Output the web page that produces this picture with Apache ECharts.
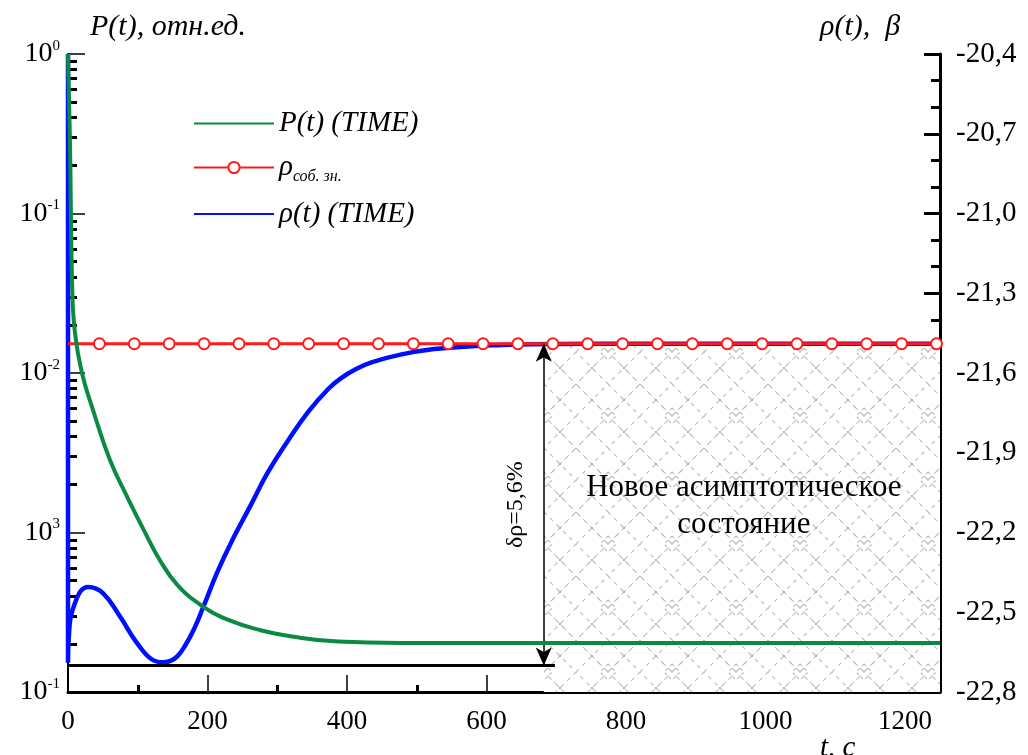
<!DOCTYPE html>
<html>
<head>
<meta charset="utf-8">
<script src="https://cdn.jsdelivr.net/npm/echarts@6/dist/echarts.min.js"></script>
<style>
html,body{margin:0;padding:0;background:#fff;}
#chart{width:1028px;height:755px;}
</style>
</head>
<body>
<div id="chart"></div>
<script>
// ---- data ----
const powerT   = [0, 3, 6, 10, 20, 36, 60, 85, 108, 132, 157, 190, 229, 276, 324, 387, 478, 600, 800, 1000, 1250];
const powerVal = [1, 0.25, 0.0346, 0.0178, 0.0100, 0.00583, 0.00286, 0.001667, 0.00105, 0.000667, 0.000468, 0.000352, 0.000284, 0.000244, 0.000222, 0.000207, 0.000203, 0.000203, 0.000203, 0.000203, 0.000203];

const rhoT   = [0, 0, 1, 10, 29, 50, 75, 99, 122, 137, 147, 157, 168, 180, 194, 214, 237, 262, 286, 315, 344, 373, 391, 413, 435, 478, 525, 574, 622, 669, 708, 800, 1000, 1250];
const rhoVal = [-20.4, -22.69, -22.60, -22.465, -22.405, -22.428, -22.518, -22.616, -22.68, -22.688, -22.683, -22.665, -22.625, -22.567, -22.48, -22.349, -22.221, -22.097, -21.976, -21.856, -21.747, -21.66, -21.62, -21.585, -21.56, -21.53, -21.51, -21.5, -21.495, -21.492, -21.491, -21.49, -21.49, -21.49];

const eigenT = [0, 45, 95, 145, 195, 245, 295, 345, 395, 445, 495, 545, 595, 645, 695, 745, 795, 845, 895, 945, 995, 1045, 1095, 1145, 1195, 1245, 1250];
const eigenVal = -21.49;

const leftTickValues = [1, 0.1, 0.01, 0.001, 0.0001];
const leftTickExp    = ['0', '-1', '-2', '3', '-1'];
const leftMinorTicks = [];
[1e-4, 1e-3, 1e-2, 1e-1].forEach(function (d) { for (let k = 2; k <= 9; k++) leftMinorTicks.push(d * k); });

const deltaRhoT = 682;
const baseRho = -22.70;
const baseEndT = 698;
const areaStartT = 682;
const labelsText = {
  P: 'P(t) (TIME)',
  eig: 'ρсоб. зн.',
  rho: 'ρ(t) (TIME)',
  delta: 'δρ=5,6%',
  area: 'Новое асимптотическое\nсостояние',
  leftName: 'P(t), отн.ед.',
  rightName: 'ρ(t),  β',
  xName: 't, c'
};

// ---- hatch pattern ----
function makeHatch() {
  const s = 64, h = s / 2;
  const c = document.createElement('canvas');
  c.width = s; c.height = s;
  const ctx = c.getContext('2d');
  ctx.fillStyle = '#ffffff';
  ctx.fillRect(0, 0, s, s);
  ctx.strokeStyle = '#bdbdbd';
  ctx.lineWidth = 1.2;
  ctx.setLineDash([6, 4]);
  ctx.beginPath();
  ctx.moveTo(0, 0); ctx.lineTo(s, s);
  ctx.moveTo(s, 0); ctx.lineTo(0, s);
  ctx.stroke();
  ctx.setLineDash([4, 5]);
  ctx.beginPath();
  ctx.moveTo(0, h); ctx.lineTo(h, 0); ctx.lineTo(s, h); ctx.lineTo(h, s); ctx.closePath();
  ctx.stroke();
  ctx.setLineDash([3, 3]);
  ctx.beginPath();
  ctx.moveTo(h, h - 8); ctx.lineTo(h + 8, h); ctx.lineTo(h, h + 8); ctx.lineTo(h - 8, h); ctx.closePath();
  ctx.stroke();
  ctx.fillStyle = '#b5b5b5';
  ctx.fillRect(15, 15, 2, 2);
  ctx.fillRect(47, 47, 2, 2);
  ctx.fillRect(47, 15, 2, 2);
  ctx.fillRect(15, 47, 2, 2);
  return c;
}

const serif = 'Liberation Serif';
const chart = echarts.init(document.getElementById('chart'));

const option = {
  backgroundColor: '#ffffff',
  animation: false,
  grid: { left: 68, right: 88, top: 54, bottom: 63, containLabel: false },
  legend: {
    left: 188, top: 104, orient: 'vertical',
    itemWidth: 80, itemHeight: 14, itemGap: 15,
    data: [
      { name: labelsText.P, itemStyle: { opacity: 0 } },
      { name: labelsText.eig },
      { name: labelsText.rho, itemStyle: { opacity: 0 } }
    ],
    textStyle: {
      fontFamily: serif, fontStyle: 'italic', fontSize: 29, color: '#000',
      rich: {
        i: { fontFamily: serif, fontStyle: 'italic', fontSize: 29, color: '#000' },
        sub: { fontFamily: serif, fontStyle: 'italic', fontSize: 16, color: '#000', padding: [18, 0, 0, 0] }
      }
    },
    formatter: function (name) {
      if (name === labelsText.eig) return '{i|ρ}{sub|соб. зн.}';
      return name;
    }
  },
  xAxis: {
    type: 'value', min: 0, max: 1250, interval: 200,
    axisLine: { show: true, lineStyle: { color: '#000', width: 3 } },
    axisTick: { show: true, inside: true, length: 17, lineStyle: { color: '#000', width: 1.5 } },
    minorTick: { show: true, splitNumber: 2, length: 7, lineStyle: { color: '#000', width: 3 } },
    splitLine: { show: false },
    axisLabel: {
      fontFamily: serif, fontSize: 27, color: '#000', margin: 16, showMaxLabel: false,
      formatter: function (v) { return (v % 200 === 0) ? String(v) : ''; }
    }
  },
  yAxis: [
    {
      type: 'log', logBase: 10, min: 1e-4, max: 1, position: 'left',
      axisLine: { show: true, lineStyle: { color: '#000', width: 2 } },
      axisTick: { show: true, inside: true, length: 17, lineStyle: { color: '#000', width: 1.5 } },
      splitLine: { show: false },
      axisLabel: {
        margin: 8, color: '#000',
        formatter: function (v) {
          let idx = -1;
          leftTickValues.forEach(function (t, i) { if (Math.abs(Math.log10(v) - Math.log10(t)) < 1e-6) idx = i; });
          if (idx < 0) return '';
          return '{b|10}{s|' + leftTickExp[idx] + '}';
        },
        rich: {
          b: { fontFamily: serif, fontSize: 28, color: '#000' },
          s: { fontFamily: serif, fontSize: 15, color: '#000', padding: [0, 0, 16, 0] }
        }
      }
    },
    {
      type: 'value', min: -22.8, max: -20.4, interval: 0.3, position: 'right',
      axisLine: { show: true, lineStyle: { color: '#000', width: 3 } },
      axisTick: { show: true, inside: true, length: 16, lineStyle: { color: '#000', width: 3 } },
      minorTick: { show: true, splitNumber: 3, length: 9, lineStyle: { color: '#000', width: 3 } },
      splitLine: { show: false },
      axisLabel: {
        fontFamily: serif, fontSize: 29, color: '#000', margin: 16,
        formatter: function (v) { return v.toFixed(1).replace('.', ','); }
      }
    },
    {
      type: 'log', logBase: 10, min: 1e-4, max: 1, position: 'left',
      axisLine: { show: false },
      axisTick: { show: true, inside: true, length: 9, customValues: leftMinorTicks, lineStyle: { color: '#000', width: 3 } },
      axisLabel: { show: false },
      splitLine: { show: false }
    }
  ],
  graphic: [
    { type: 'text', left: 90, top: 12, style: { text: labelsText.leftName, font: 'italic 30px "Liberation Serif"', fill: '#000' } },
    { type: 'text', left: 820, top: 12, style: { text: labelsText.rightName, font: 'italic 30px "Liberation Serif"', fill: '#000' } },
    { type: 'text', left: 820, top: 734, style: { text: labelsText.xName, font: 'italic 29px "Liberation Serif"', fill: '#000' } }
  ],
  series: [
    {
      name: 'hatch', type: 'line', yAxisIndex: 1, data: [], z: 1, silent: true,
      markArea: {
        silent: true,
        itemStyle: { color: { image: makeHatch(), repeat: 'repeat' } },
        label: {
          show: true, position: 'inside', offset: [2, -12],
          fontFamily: serif, fontSize: 31, color: '#000', lineHeight: 37
        },
        data: [[{ coord: [areaStartT, eigenVal], name: labelsText.area }, { coord: [1250, -22.8] }]]
      }
    },
    {
      name: labelsText.P, type: 'line', yAxisIndex: 0, z: 5,
      data: powerT.map(function (t, i) { return [t, powerVal[i]]; }),
      symbol: 'none', smooth: 0.45,
      lineStyle: { color: '#0a8a44', width: 4 },
      itemStyle: { color: '#0a8a44' }
    },
    {
      name: labelsText.eig, type: 'line', yAxisIndex: 1, z: 4,
      data: eigenT.map(function (t, i) {
        const item = { value: [t, eigenVal] };
        if (i === 0 || i === eigenT.length - 1) item.symbol = 'none';
        return item;
      }),
      symbol: 'emptyCircle', symbolSize: 11,
      lineStyle: { color: '#ff1a1a', width: 3 },
      itemStyle: { color: '#ff1a1a', borderWidth: 1.3 }
    },
    {
      name: labelsText.rho, type: 'line', yAxisIndex: 1, z: 3,
      data: rhoT.map(function (t, i) { return [t, rhoVal[i]]; }),
      symbol: 'none', smooth: 0.45,
      lineStyle: { color: '#0010ff', width: 4.5 },
      itemStyle: { color: '#0010ff' },
      markLine: {
        silent: true, animation: false,
        data: [
          [
            { coord: [deltaRhoT, baseRho], symbol: 'arrow', symbolSize: [12, 18] },
            { coord: [deltaRhoT, eigenVal], symbol: 'arrow', symbolSize: [12, 18],
              lineStyle: { color: '#000', width: 1.5, type: 'solid' },
              label: { show: true, position: 'insideMiddleTop', distance: 16, formatter: labelsText.delta,
                       fontFamily: serif, fontSize: 24, color: '#000' } }
          ],
          [
            { coord: [0, baseRho], symbol: 'none' },
            { coord: [baseEndT, baseRho], symbol: 'none',
              lineStyle: { color: '#000', width: 3, type: 'solid' }, label: { show: false } }
          ]
        ]
      }
    }
  ]
};
chart.setOption(option);
</script>
</body>
</html>
